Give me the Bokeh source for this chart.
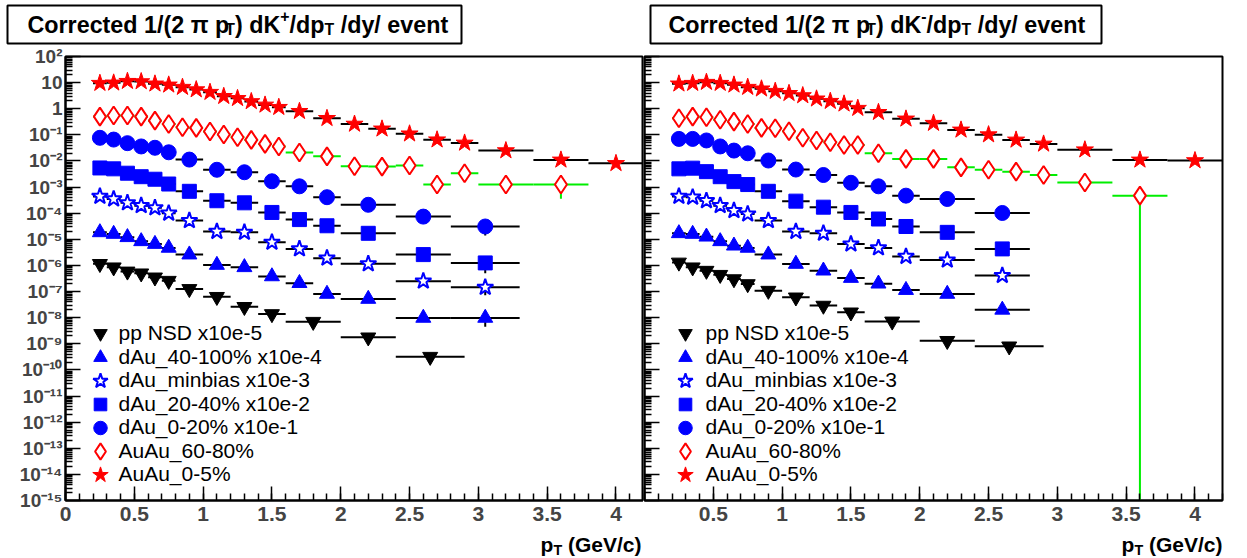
from bokeh.plotting import figure
from bokeh.models import Range1d, FixedTicker, CustomJSTickFormatter
from bokeh.layouts import row, column
from bokeh.embed import file_html
from bokeh.resources import INLINE
from bokeh.core.properties import value

# ---------------- data ----------------
# pT bin centres and half-widths (GeV/c)
pt_auau = [0.25, 0.35, 0.45, 0.55, 0.65, 0.75, 0.85, 0.95, 1.05, 1.15, 1.25, 1.35, 1.45, 1.55,
           1.7, 1.9, 2.1, 2.3, 2.5, 2.7, 2.9, 3.2, 3.6, 4.0]
hw_auau = [0.05, 0.05, 0.05, 0.05, 0.05, 0.05, 0.05, 0.05, 0.05, 0.05, 0.05, 0.05, 0.05, 0.05,
           0.1, 0.1, 0.1, 0.1, 0.1, 0.1, 0.1, 0.2, 0.2, 0.2]
pt_dau = [0.25, 0.35, 0.45, 0.55, 0.65, 0.75, 0.9, 1.1, 1.3, 1.5, 1.7, 1.9, 2.2, 2.6, 3.05]
hw_dau = [0.05, 0.05, 0.05, 0.05, 0.05, 0.05, 0.1, 0.1, 0.1, 0.1, 0.1, 0.1, 0.2, 0.2, 0.25]
pt_pp = [0.25, 0.35, 0.45, 0.55, 0.65, 0.75, 0.9, 1.1, 1.3, 1.5, 1.8, 2.2, 2.65]
hw_pp = [0.05, 0.05, 0.05, 0.05, 0.05, 0.05, 0.1, 0.1, 0.1, 0.1, 0.2, 0.2, 0.25]

# K+ (left panel)
kp_auau05 = [9.5, 9.8, 11.3, 11.0, 9.0, 8.2, 6.7, 5.4, 4.3, 3.0, 2.5, 1.9, 1.4, 1.14,
             0.80, 0.43, 0.26, 0.17, 0.11, 0.065, 0.049, 0.025, 0.011, 0.0081]
kp_auau6080 = [0.50, 0.55, 0.55, 0.50, 0.35, 0.26, 0.195, 0.185, 0.134, 0.103, 0.081, 0.064, 0.045, 0.036,
               0.021, 0.015, 0.0063, 0.0061, 0.0067, 0.00126, 0.0034, 0.00126, 0.00126]
kp_auau6080_err = [0, 0, 0, 0, 0, 0, 0, 0, 0, 0, 0, 0, 0, 0,
                   0, 0, 0, 0, 0, 0.00068, 0, 0, 0.0009]
kp_dau020 = [0.077, 0.066, 0.048, 0.036, 0.032, 0.0215, 0.0113, 0.0046, 0.0037, 0.00167, 0.00107,
             4.1e-4, 2.1e-4, 7.4e-5, 3.1e-5]
kp_dau020_err = [0, 0, 0, 0, 0, 0, 0, 0, 0, 0, 0, 0, 0, 0, 1.7e-5]
kp_dau2040 = [0.0054, 0.0050, 0.0034, 0.0025, 0.0020, 0.00131, 6.9e-4, 3.0e-4, 2.5e-4, 1.07e-4, 5.7e-5,
              3.3e-5, 1.7e-5, 2.6e-6, 1.25e-6]
kp_dau2040_err = [0, 0, 0, 0, 0, 0, 0, 0, 0, 0, 0, 0, 0, 0, 7.5e-7]
kp_daumb = [4.4e-4, 3.5e-4, 2.5e-4, 1.95e-4, 1.6e-4, 1.0e-4, 5.2e-5, 2.0e-5, 1.85e-5, 7.7e-6, 4.3e-6,
            1.9e-6, 1.15e-6, 2.5e-7, 1.45e-7]
kp_daumb_err = [0, 0, 0, 0, 0, 0, 0, 0, 0, 0, 0, 0, 0, 0, 7.3e-8]
kp_dau40100 = [1.85e-5, 1.6e-5, 1.2e-5, 8.4e-6, 6.6e-6, 4.7e-6, 2.6e-6, 1.04e-6, 8.5e-7, 3.8e-7, 2.1e-7,
               8.1e-8, 5.2e-8, 9.8e-9, 9.8e-9]
kp_dau40100_err = [0, 0, 0, 0, 0, 0, 0, 0, 0, 0, 0, 0, 0, 0, 5.3e-9]
kp_pp = [1.15e-6, 8.5e-7, 5.9e-7, 5.0e-7, 3.5e-7, 2.6e-7, 1.26e-7, 6.3e-8, 2.6e-8, 1.38e-8, 7.0e-9,
         1.77e-9, 3.2e-10]

# K- (right panel)
km_auau05 = [9.0, 9.5, 10.4, 9.5, 8.2, 6.7, 5.8, 4.7, 3.9, 3.2, 2.4, 1.94, 1.54, 1.05,
             0.73, 0.41, 0.28, 0.155, 0.102, 0.064, 0.045, 0.027, 0.011, 0.0104]
km_auau6080 = [0.43, 0.50, 0.47, 0.38, 0.32, 0.26, 0.185, 0.18, 0.137, 0.077, 0.061, 0.052, 0.041, 0.041,
               0.0197, 0.012, 0.012, 0.0057, 0.0046, 0.0039, 0.0029, 0.0015, 0.00047]
km_auau6080_err = [0, 0, 0, 0, 0, 0, 0, 0, 0, 0, 0, 0, 0, 0,
                   0, 0, 0, 0, 0, 0, 0, 0, 0.0005]
km_dau020 = [0.070, 0.070, 0.061, 0.036, 0.025, 0.0197, 0.0104, 0.0047, 0.0029, 0.00146, 0.00107,
             4.7e-4, 3.5e-4, 1.02e-4]
km_dau2040 = [0.0050, 0.0053, 0.0039, 0.0025, 0.00162, 0.00125, 6.9e-4, 2.9e-4, 1.7e-4, 1.07e-4, 6.0e-5,
              3.1e-5, 1.85e-5, 4.3e-6]
km_daumb = [4.4e-4, 4.1e-4, 3.0e-4, 1.95e-4, 1.26e-4, 9.3e-5, 5.2e-5, 2.0e-5, 1.7e-5, 6.6e-6, 4.7e-6,
            2.2e-6, 1.6e-6, 4.1e-7]
km_dau40100 = [1.7e-5, 1.6e-5, 1.26e-5, 8.4e-6, 5.7e-6, 4.7e-6, 2.6e-6, 1.14e-6, 6.3e-7, 3.3e-7, 2.0e-7,
               1.14e-7, 8.1e-8, 2.0e-8]
km_pp = [1.3e-6, 8.5e-7, 6.3e-7, 4.4e-7, 3.0e-7, 1.94e-7, 1.08e-7, 6.0e-8, 2.9e-8, 1.6e-8, 7.2e-9,
         1.3e-9, 8.0e-10]

legend_labels = ["pp NSD x10e-5", "dAu_40-100% x10e-4", "dAu_minbias x10e-3", "dAu_20-40% x10e-2",
                 "dAu_0-20% x10e-1", "AuAu_60-80%", "AuAu_0-5%"]
series_keys = ["pp", "d40100", "dmb", "d2040", "d020", "a6080", "a05"]

# ---------------- styles / layout ----------------
STYLE = {
    "pp":     dict(marker="inverted_triangle", size=15, fill="black", line="black", lw=1, bar="black"),
    "d40100": dict(marker="triangle", size=15, fill="blue", line="blue", lw=1, bar="black"),
    "dmb":    dict(marker="star", size=17, fill="white", line="blue", lw=2, bar="black"),
    "d2040":  dict(marker="square", size=14, fill="blue", line="blue", lw=1, bar="black"),
    "d020":   dict(marker="circle", size=15, fill="blue", line="blue", lw=1, bar="black"),
    "a6080":  dict(marker="diamond", size=18, fill="white", line="red", lw=2, bar="#00ee00"),
    "a05":    dict(marker="star", size=18, fill="red", line="red", lw=1, bar="black"),
}

TITLE_H = 45          # title strip: page y 0..45
BOT_H = 24            # axis-title strip: page y 534..558
TOP, BOTTOM = 56, 500  # plot frame in page pixels
MAIN_TOP = TITLE_H
MAIN_H = 558 - TITLE_H - BOT_H
DEC = (BOTTOM - TOP) / 17.0
XMAX = 4.2
FRAME_W = 578
FRAME_LEFT = {"L": 65, "R": 644}
CANVAS_LEFT = {"L": 0, "R": 643}
FIG_W = {"L": 643, "R": 599}
PXU = FRAME_W / XMAX
FONT = "Liberation Sans"
BASE_FIX = -7          # renderer puts alphabetic baselines this much lower


def yd(py):
    return 10 ** (2 - (py - TOP) / DEC)


def xd(px, side):
    return (px - FRAME_LEFT[side]) / PXU


ARIAL_BOLD = {' ': 278, '(': 333, ')': 333, '/': 278, '1': 556, '2': 556, 'C': 722, 'o': 611, 'r': 389,
              'e': 556, 'c': 556, 't': 333, 'd': 611, 'p': 611, 'K': 722, 'T': 611, 'y': 556, 'v': 556,
              'n': 611, '+': 584, '-': 333, '\u03c0': 600, 'G': 778, 'V': 667}


def twidth(s, fs):
    return sum(ARIAL_BOLD.get(ch, 556) for ch in s) * fs / 1000.0


def rich(p, pieces, x0, base, fs, align="left"):
    """Bold text with sub/superscripts; x0/base in the strip's pixel data units."""
    sizes = [fs if k == "n" else fs * 0.68 for _, k in pieces]
    total = sum(twidth(t, s) for (t, _), s in zip(pieces, sizes))
    x = x0 if align == "left" else x0 - total
    for (t, k), s in zip(pieces, sizes):
        dy = 0 if k == "n" else (5 if k == "sub" else -9)
        body = t.lstrip(" ")
        x += twidth(t[:len(t) - len(body)], s)
        p.text(x=[x], y=[base + dy + BASE_FIX], text=[body], text_font=value(FONT),
               text_font_style="bold", text_font_size=value(f"{s:.1f}px"),
               text_baseline="alphabetic", text_align="left", text_color="black")
        x += twidth(body, s)


def strip(width, height, bl, br, bt, bb, outline):
    fw, fh = width - bl - br, height - bt - bb
    p = figure(width=width, height=height, min_border_left=bl, min_border_right=br,
               min_border_top=bt, min_border_bottom=bb, x_axis_location=None, y_axis_location=None,
               output_backend="svg", toolbar_location=None,
               x_range=Range1d(0, fw), y_range=Range1d(fh, 0))
    p.grid.visible = False
    p.background_fill_color = "white"
    p.border_fill_color = "white"
    if outline:
        p.outline_line_color = "black"
        p.outline_line_width = 2
        p.outline_line_alpha = 1
    else:
        p.outline_line_color = None
    return p


def draw_series(p, key, x, hw, y, err=None):
    st = STYLE[key]
    p.segment(x0=[a - h for a, h in zip(x, hw)], y0=y, x1=[a + h for a, h in zip(x, hw)], y1=y,
              line_color=st["bar"], line_width=2)
    if err is not None:
        ex = [a for a, e in zip(x, err) if e > 0]
        lo = [max(v - e, 1e-30) for v, e in zip(y, err) if e > 0]
        hi = [v + e for v, e in zip(y, err) if e > 0]
        p.segment(x0=ex, y0=lo, x1=ex, y1=hi, line_color=st["bar"], line_width=2)
    p.scatter(x=x, y=y, marker=st["marker"], size=st["size"], fill_color=st["fill"],
              line_color=st["line"], line_width=st["lw"])


def make_fig(side):
    bl = FRAME_LEFT[side] - CANVAS_LEFT[side]
    br = FIG_W[side] - bl - FRAME_W
    p = figure(width=FIG_W[side], height=MAIN_H, min_border_left=bl, min_border_right=br,
               min_border_top=TOP - MAIN_TOP, min_border_bottom=MAIN_TOP + MAIN_H - BOTTOM,
               output_backend="svg", toolbar_location=None, y_axis_type="log",
               x_range=Range1d(0, XMAX), y_range=Range1d(1e-15, 1e2))
    p.xgrid.visible = False
    p.ygrid.visible = False
    p.outline_line_color = "black"
    p.outline_line_width = 2
    p.outline_line_alpha = 1
    p.background_fill_color = "white"
    p.border_fill_color = "white"

    xt = [i * 0.5 for i in range(0, 9)]
    xm = [i * 0.1 for i in range(0, 43)]
    p.xaxis.ticker = FixedTicker(ticks=xt, minor_ticks=xm)
    p.xaxis.major_tick_in = 14
    p.xaxis.major_tick_out = 0
    p.xaxis.minor_tick_in = 7
    p.xaxis.minor_tick_out = 0
    p.xaxis.axis_line_width = 2
    p.xaxis.major_tick_line_width = 1.5
    p.xaxis.minor_tick_line_width = 1.5
    p.xaxis.major_label_text_font = FONT
    p.xaxis.major_label_text_font_style = "bold"
    p.xaxis.major_label_text_font_size = "21px"
    p.xaxis.major_label_standoff = 6
    if side == "L":
        p.xaxis.formatter = CustomJSTickFormatter(code="return String(Math.round(tick*10)/10);")
    else:
        p.xaxis.formatter = CustomJSTickFormatter(
            code="return tick == 0 ? '' : String(Math.round(tick*10)/10);")

    yt = [10.0 ** k for k in range(-15, 3)]
    ym = [m * 10.0 ** k for k in range(-15, 2) for m in range(2, 10)]
    p.yaxis.ticker = FixedTicker(ticks=yt, minor_ticks=ym)
    p.yaxis.major_tick_in = 15
    p.yaxis.major_tick_out = 0
    p.yaxis.minor_tick_in = 7
    p.yaxis.minor_tick_out = 0
    p.yaxis.axis_line_width = 2
    p.yaxis.major_tick_line_width = 1.5
    p.yaxis.minor_tick_line_width = 1.5
    p.yaxis.major_label_text_font = FONT
    p.yaxis.major_label_text_font_style = "bold"
    p.yaxis.major_label_text_font_size = "19px"
    if side == "L":
        p.yaxis.major_label_standoff = 3
        p.yaxis.formatter = CustomJSTickFormatter(code="""
            const e = Math.round(Math.log10(tick));
            if (e == 0) return '1';
            if (e == 1) return '10';
            const sup = {'-': '\u207b', '0': '\u2070', '1': '\u00b9', '2': '\u00b2', '3': '\u00b3',
                         '4': '\u2074', '5': '\u2075', '6': '\u2076', '7': '\u2077', '8': '\u2078', '9': '\u2079'};
            return '10' + String(e).split('').map(c => sup[c]).join('');
        """)
    else:
        p.yaxis.major_label_standoff = 0
        p.yaxis.formatter = CustomJSTickFormatter(code="return '';")
    return p


pL = make_fig("L")
pR = make_fig("R")

# --- left panel: K+
draw_series(pL, "pp", pt_pp, hw_pp, kp_pp)
draw_series(pL, "d40100", pt_dau, hw_dau, kp_dau40100, kp_dau40100_err)
draw_series(pL, "dmb", pt_dau, hw_dau, kp_daumb, kp_daumb_err)
draw_series(pL, "d2040", pt_dau, hw_dau, kp_dau2040, kp_dau2040_err)
draw_series(pL, "d020", pt_dau, hw_dau, kp_dau020, kp_dau020_err)
draw_series(pL, "a6080", pt_auau[:23], hw_auau[:23], kp_auau6080, kp_auau6080_err)
draw_series(pL, "a05", pt_auau, hw_auau, kp_auau05)

# --- right panel: K-
n = len(km_dau020)
draw_series(pR, "pp", pt_pp, hw_pp, km_pp)
draw_series(pR, "d40100", pt_dau[:n], hw_dau[:n], km_dau40100)
draw_series(pR, "dmb", pt_dau[:n], hw_dau[:n], km_daumb)
draw_series(pR, "d2040", pt_dau[:n], hw_dau[:n], km_dau2040)
draw_series(pR, "d020", pt_dau[:n], hw_dau[:n], km_dau020)
draw_series(pR, "a6080", pt_auau[:23], hw_auau[:23], km_auau6080, km_auau6080_err)
draw_series(pR, "a05", pt_auau, hw_auau, km_auau05)

# --- legends (one in each panel)
LEG_Y = [333.0, 357.0, 380.5, 404.0, 427.5, 451.0, 474.5]
for p, side, mx, tx in [(pL, "L", 100, 118), (pR, "R", 685, 705)]:
    for key, lab, py in zip(series_keys, legend_labels, LEG_Y):
        st = STYLE[key]
        p.scatter(x=[xd(mx, side)], y=[yd(py)], marker=st["marker"], size=st["size"] * 0.9,
                  fill_color=st["fill"], line_color=st["line"], line_width=st["lw"])
        p.text(x=[xd(tx, side)], y=[yd(py - 1.5)], text=[lab], text_font=value(FONT),
               text_font_size="21px", text_baseline="middle", text_align="left", text_color="black")

# --- title strips (boxed titles)
tL = strip(643, TITLE_H, 7, 643 - 461, 5, TITLE_H - 43, True)
tR = strip(599, TITLE_H, 650 - 643, 599 - (1101 - 643), 5, TITLE_H - 43, True)
for t, sign, tx in [(tL, "+", 27 - 7), (tR, "-", 668 - 650)]:
    rich(t, [("Corrected 1/(2 \u03c0 p", "n"), ("T", "sub"), (") dK", "n"), (sign, "sup"),
             ("/dp", "n"), ("T", "sub"), (" /dy/ event", "n")], tx, 31 - 5, 23.3)

# --- axis-title strips (right aligned to the frame edge)
bL = strip(643, BOT_H, 0, 0, 0, 0, False)
bR = strip(599, BOT_H, 0, 0, 0, 0, False)
for b, xr in [(bL, 641), (bR, 1222 - 643)]:
    rich(b, [("p", "n"), ("T", "sub"), (" (GeV/c)", "n")], xr, 551 - (558 - BOT_H), 21, align="right")

layout = column(row(tL, tR), row(pL, pR), row(bL, bR))
open("out.html", "w").write(file_html(layout, INLINE))
